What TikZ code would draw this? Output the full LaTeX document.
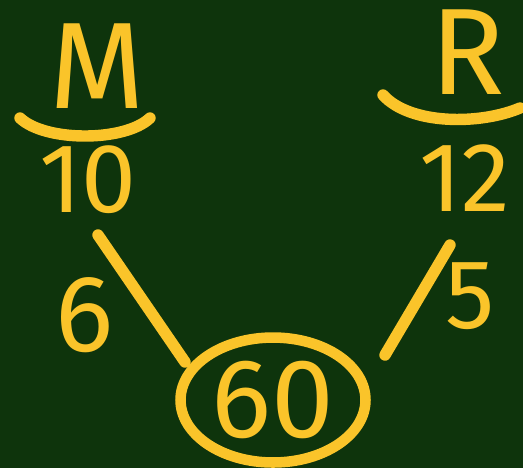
\documentclass[tikz,border=0pt]{standalone}
\usepackage{fontspec}
\setmainfont{Fira Sans}
\usetikzlibrary{shapes.geometric,positioning}
\definecolor{tabla}{RGB}{14,52,12}
\definecolor{kreta}{RGB}{250,196,42}
\tikzset{
  betu/.style={text=kreta,font=\fontsize{70}{70}\selectfont,inner sep=0pt},
  szam/.style={text=kreta,font=\fontsize{56}{56}\selectfont,inner sep=0pt},
  vonal/.style={draw=kreta,line width=6.5pt,line cap=round},
  kor/.style={ellipse,draw=kreta,line width=6pt,minimum width=3.7cm,minimum height=2.5cm,inner sep=0pt},
}

\begin{document}
\begin{tikzpicture}[x=0.02cm,y=-0.02cm]
  \fill[tabla] (0,0) rectangle (523,468);
  \useasboundingbox (0,0) rectangle (523,468);
  % bal oldal
  \node[betu] (m) at (97,66) {M};
  \draw[vonal] (20,118) .. controls (45,142) and (125,142) .. (150,118);
  \node[szam] (tiz) at (88,180) {10};
  % jobb oldal
  \node[betu] (r) at (468,52) {R};
  \draw[vonal] (383,95) .. controls (410,125) and (480,125) .. (520,108);
  \node[szam] (tizenketto) at (465,178) {12};
  % kozep
  \node[kor] (hatvan) at (273,400) {};
  \node[szam,font=\fontsize{64}{64}\selectfont] (hatvanszam) at (hatvan) {60};
  \coordinate (bfel) at (98,235);
  \coordinate (ble) at (185,362);
  \coordinate (jfel) at (450,245);
  \coordinate (jle) at (385,355);
  \draw[vonal] (bfel) -- (ble);
  \draw[vonal] (jfel) -- (jle);
  \node[szam,font=\fontsize{62}{62}\selectfont] (hat) at (85,315) {6};
  \node[szam] (ot) at (470,296) {5};
\end{tikzpicture}
\end{document}
